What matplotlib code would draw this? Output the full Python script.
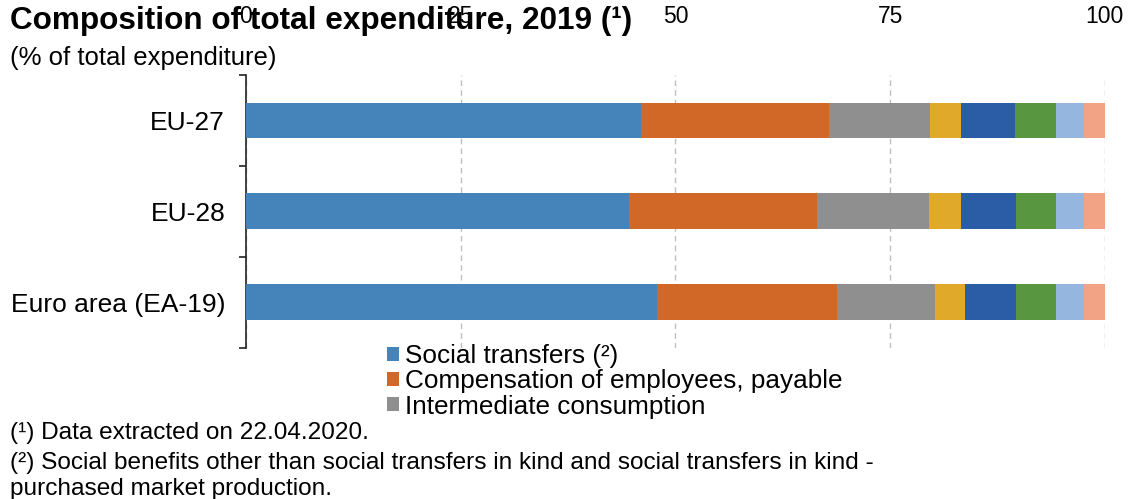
import matplotlib.pyplot as plt
import numpy as np

plt.rcParams['font.family'] = ['Liberation Sans', 'DejaVu Sans']

##### composition of total expenditure, 2019 #####

regions = ["EU-27", "EU-28", "Euro area (EA-19)"]
series_names = ["Social transfers (²)",
                "Compensation of employees, payable",
                "Intermediate consumption",
                "Interest, payable",
                "Gross capital formation",
                "Social transfers in kind - purchased market production",
                "Subsidies, payable",
                "Other expenditure"]
social_transfers = [46.0, 44.6, 47.9]
compensation = [21.9, 21.9, 20.9]
intermediate = [11.8, 13.0, 11.4]
interest = [3.5, 3.7, 3.5]
capital_formation = [6.3, 6.5, 6.0]
transfers_in_kind = [4.8, 4.6, 4.6]
subsidies = [3.3, 3.3, 3.3]
other = [2.4, 2.4, 2.4]
x_ticks = [0, 25, 50, 75, 100]

colors = ["#4584BB", "#D16828", "#8F8F8F", "#E0A929",
          "#2B5CA6", "#589640", "#95B6DE", "#F2A385"]

values = [social_transfers, compensation, intermediate, interest,
          capital_formation, transfers_in_kind, subsidies, other]

fig = plt.figure(figsize=(11.33, 4.99), dpi=100)
ax = fig.add_axes([0.2171, 0.3036, 0.758, 0.546])

y = np.arange(len(regions))
left = np.zeros(len(regions))
bars = []
for i in range(len(values)):
    b = ax.barh(y, values[i], left=left, height=0.395, color=colors[i],
                label=series_names[i], zorder=3)
    bars.append(b)
    left = left + np.array(values[i])

ax.set_xlim(0, 100)
ax.set_ylim(2.5, -0.5)
ax.xaxis.tick_top()
ax.set_xticks(x_ticks)
ax.set_xticklabels([str(t) for t in x_ticks], fontsize=16.5)
ax.tick_params(axis='x', length=0, pad=34)
ax.grid(axis='x', ls=(0, (4, 3)), color='#BFBFBF', lw=1, zorder=0)

ax.set_yticks(y)
ax.set_yticklabels(regions, fontsize=19)
ax.tick_params(axis='y', length=0, pad=15)
ax.set_yticks([-0.5, 0.5, 1.5, 2.5], minor=True)
ax.tick_params(axis='y', which='minor', length=5, width=1.2, color='#222222')

for s in ['top', 'right', 'bottom']:
    ax.spines[s].set_visible(False)
ax.spines['left'].set_color('#222222')
ax.spines['left'].set_linewidth(1.2)

fig.text(0.009, 0.958, "Composition of total expenditure, 2019 (¹)",
         fontsize=22.7, fontweight='bold', va='center')
fig.text(0.009, 0.883, "(% of total expenditure)", fontsize=18.5, va='center')

# only the first three entries are visible in the original legend
fig.legend(handles=bars[:3], loc='upper left', bbox_to_anchor=(0.330, 0.337),
           frameon=False, fontsize=18.8, handlelength=0.45, handleheight=0.45,
           handletextpad=0.25, labelspacing=0.05, borderpad=0)

fig.text(0.009, 0.133, "(¹) Data extracted on 22.04.2020.", fontsize=17.6, va='center')
fig.text(0.009, 0.073, "(²) Social benefits other than social transfers in kind and social transfers in kind -",
         fontsize=17.6, va='center')
fig.text(0.009, 0.021, "purchased market production.", fontsize=17.6, va='center')

plt.savefig("out.png", dpi=100)
